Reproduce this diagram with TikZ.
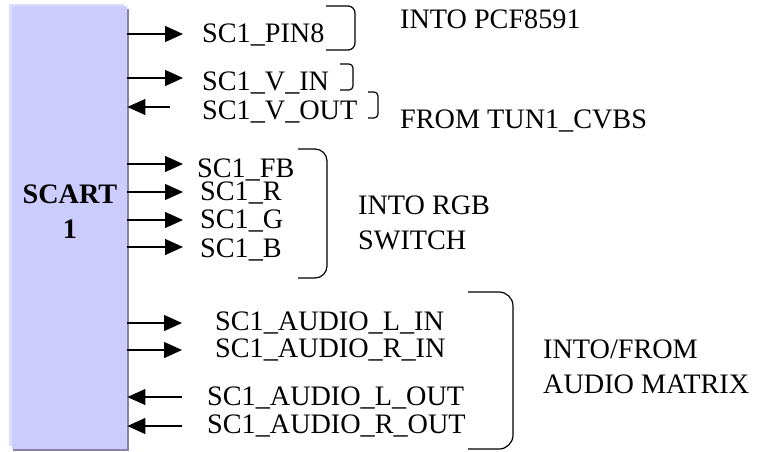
\documentclass[tikz,border=0pt]{standalone}
\usepackage{fontspec}
\setmainfont{Liberation Serif}
\usetikzlibrary{arrows.meta}
\definecolor{scartfill}{HTML}{CCCCFF}
\definecolor{scartlight}{HTML}{DCDCFF}
\definecolor{scartshade}{HTML}{8585A8}

\begin{document}
\begin{tikzpicture}[x=1pt,y=-1pt,
  font=\fontsize{28.2}{35}\selectfont,
  sig/.style={line width=1.3pt,-{Triangle[length=18pt,width=16pt]}},
  bracket/.style={line width=1.2pt,rounded corners=#1},
  bracket/.default=6pt,
  lbl/.style={anchor=base west,inner sep=0pt},
]
\useasboundingbox (0,0) rectangle (759,451);
\fill[scartshade] (13,9) rectangle (129,451);
\fill[scartlight] (9,4) rectangle (124,446);
\node[fill=scartfill,inner sep=0pt,minimum width=115pt,minimum height=443pt,anchor=north west] (scart) at (12,6) {};
\node[font=\fontsize{28.2}{35}\selectfont\bfseries,align=center,anchor=base,inner sep=0pt] (scartname) at (70,238) {SCART\\1};

\foreach \nm/\x/\y/\txt in {pin8/202/42/SC1\_PIN8, vin/202/90/SC1\_V\_IN, vout/202/119/SC1\_V\_OUT,
  fb/197/177/SC1\_FB, r/200/200/SC1\_R, g/200/228/SC1\_G, b/200/257/SC1\_B,
  alin/215/330/SC1\_AUDIO\_L\_IN, arin/215/357/SC1\_AUDIO\_R\_IN,
  alout/207/405/SC1\_AUDIO\_L\_OUT, arout/207/433/SC1\_AUDIO\_R\_OUT}
  \node[lbl] (\nm) at (\x,\y) {\txt};

\foreach \nm/\x/\y in {pin8/183/34, vin/183/78, fb/183/164, r/183/192, g/183/220, b/183/247, alin/182/323, arin/182/350} {
  \coordinate (\nm-tip) at (\x,\y);
  \draw[sig] (scart.east |- \nm-tip) -- (\nm-tip);
}
\foreach \nm/\x/\y in {vout/170/107, alout/182/397, arout/182/426} {
  \coordinate (\nm-tail) at (\x,\y);
  \draw[sig] (\nm-tail) -- (scart.east |- \nm-tail);
}

\draw[bracket=7pt] (326,6) -- (355,6) -- (355,50) -- (326,50);
\draw[bracket=4pt] (340,64) -- (353,64) -- (353,90) -- (340,90);
\draw[bracket=4pt] (368,92) -- (378,92) -- (378,118) -- (368,118);
\draw[bracket=12pt] (298,149) -- (327,149) -- (327,278) -- (298,278);
\draw[bracket=14pt] (468,292) -- (513,292) -- (513,449) -- (468,449);

\node[lbl] (pcf) at (400,28) {INTO PCF8591};
\node[lbl] (tun) at (400,128) {FROM TUN1\_CVBS};
\node[lbl,align=left] (rgb) at (358,249) {INTO RGB\\SWITCH};
\node[lbl,align=left] (audio) at (543,393) {INTO/FROM\\AUDIO MATRIX};
\end{tikzpicture}
\end{document}
